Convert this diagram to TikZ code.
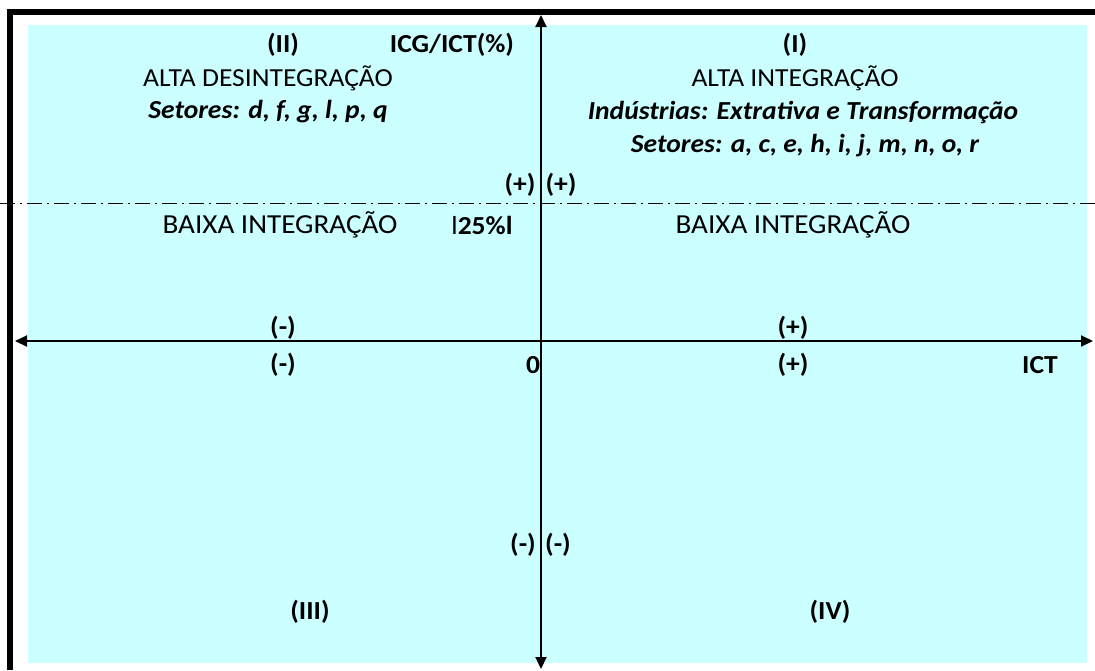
\documentclass[tikz,border=0pt]{standalone}
\usepackage{fontspec}
\setmainfont{Carlito}[FakeStretch=1.06]
\usetikzlibrary{arrows.meta}
\definecolor{quadcyan}{RGB}{204,255,255}
\tikzset{
  lbl/.style={inner sep=0pt, font=\fontsize{26}{28}\selectfont},
  biglbl/.style={inner sep=0pt, font=\fontsize{27.5}{29}\selectfont},
  blbl/.style={lbl, font=\fontsize{26}{28}\selectfont\bfseries},
  bilbl/.style={lbl, font=\fontsize{26}{28}\selectfont\bfseries\itshape},
  axisline/.style={line width=2pt, -{Triangle[width=11pt,length=12pt]}},
  frameline/.style={line width=6pt},
  divline/.style={line width=1pt, dash pattern=on 15pt off 5pt on 2pt off 5pt}
}
\begin{document}
\begin{tikzpicture}[x=1pt,y=-1pt]
\useasboundingbox (0,0) rectangle (1095,670);
% background
\fill[quadcyan] (28,25) rectangle (1087,663);
% frame
\draw[frameline] (10,670) -- (10,12) -- (1095,12);
% divider
\draw[divline] (0,203) -- (1095,203);
% axes
\coordinate (ytop) at (541,15);
\coordinate (ybot) at (541,669);
\coordinate (xleft) at (15,341);
\coordinate (xright) at (1093,341);
\coordinate (origin) at (541,341);
\draw[axisline] (origin) -- (ytop);
\draw[axisline] (origin) -- (ybot);
\draw[axisline] (origin) -- (xleft);
\draw[axisline] (origin) -- (xright);
% quadrant II
\node[blbl] (qII) at (283,45) {(II)};
\node[blbl] (ylab) at (452,45) {ICG/ICT(\%)};
\node[lbl] (altades) at (268,78) {ALTA DESINTEGRAÇÃO};
\node[bilbl] (setII) at (268,112) {Setores: d, f, g, l, p, q};
% quadrant I
\node[blbl] (qI) at (795,45) {(I)};
\node[lbl] (altaint) at (795,78) {ALTA INTEGRAÇÃO};
\node[bilbl] (ind) at (803,113) {Indústrias: Extrativa e Transformação};
\node[bilbl] (setI) at (805,146) {Setores: a, c, e, h, i, j, m, n, o, r};
% divider labels
\node[blbl] (pl1) at (520,185) {(+)};
\node[blbl] (pl2) at (561,185) {(+)};
\node[biglbl] (baixaL) at (280,225) {BAIXA INTEGRAÇÃO};
\node[lbl] (pct) at (482,225) {l\textbf{25\%l}};
\node[biglbl] (baixaR) at (793,225) {BAIXA INTEGRAÇÃO};
% x axis labels
\node[blbl] (mx1) at (283,328) {(-)};
\node[blbl] (px1) at (793,328) {(+)};
\node[blbl] (mx2) at (283,365) {(-)};
\node[blbl] (zero) at (533,365) {0};
\node[blbl] (px2) at (793,365) {(+)};
\node[blbl] (xlab) at (1040,365) {ICT};
% lower labels
\node[blbl] (mi1) at (523,545) {(-)};
\node[blbl] (mi2) at (558,545) {(-)};
\node[blbl] (qIII) at (310,612) {(III)};
\node[blbl] (qIV) at (830,612) {(IV)};
\end{tikzpicture}
\end{document}
